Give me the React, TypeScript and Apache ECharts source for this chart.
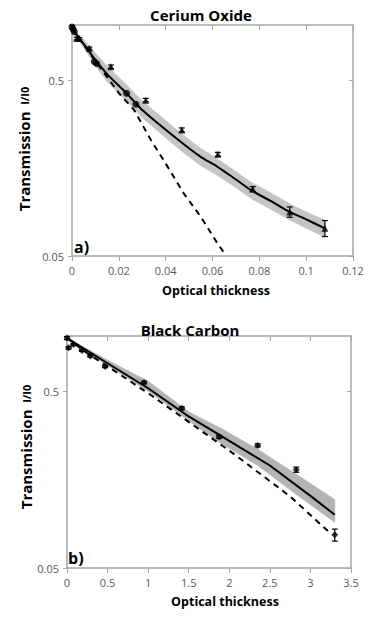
import React, { useEffect, useRef } from "react";
import * as echarts from "echarts";

// ---------- Panel a: Cerium Oxide ----------
const aFitX = [0, 0.005, 0.01, 0.015, 0.0233, 0.03, 0.0464, 0.055, 0.062, 0.07, 0.077, 0.085, 0.093, 0.1, 0.108];
const aFitY = [0.98, 0.8, 0.65, 0.54, 0.42, 0.338, 0.223, 0.183, 0.161, 0.136, 0.117, 0.1025, 0.089, 0.0807, 0.0718];
const aBandHi = [1.0, 0.85, 0.71, 0.6, 0.47, 0.38, 0.25, 0.204, 0.179, 0.151, 0.13, 0.114, 0.099, 0.089, 0.08];
const aBandLo = [0.95, 0.76, 0.6, 0.49, 0.38, 0.305, 0.199, 0.163, 0.144, 0.122, 0.105, 0.092, 0.08, 0.072, 0.064];
const aDashX = [0, 0.01, 0.0201, 0.0265, 0.0337, 0.0408, 0.0478, 0.055, 0.0621, 0.0656];
const aDashY = [0.98, 0.64, 0.42, 0.338, 0.228, 0.161, 0.113, 0.0835, 0.059, 0.0507];
const aPtX = [0, 0.0005, 0.001, 0.002, 0.0031, 0.0074, 0.0095, 0.0105, 0.0166, 0.0233, 0.0273, 0.0315, 0.0469, 0.0623, 0.0772, 0.093, 0.108];
const aPtY = [1.0, 0.97, 0.94, 0.86, 0.86, 0.757, 0.635, 0.62, 0.595, 0.42, 0.364, 0.384, 0.26, 0.189, 0.12, 0.089, 0.072];
const aPtErr = [0.02, 0, 0, 0.015, 0.01, 0.012, 0, 0, 0.013, 0, 0, 0.009, 0.007, 0.005, 0.004, 0.006, 0.0075];
const aPtShape = ["circle", "circle", "circle", "triangle", "triangle", "triangle", "circle", "circle", "triangle", "circle", "circle", "triangle", "triangle", "triangle", "triangle", "triangle", "triangle"];
const aXTicks = { min: 0, max: 0.12, interval: 0.02 };

// ---------- Panel b: Black Carbon ----------
const bFitX = [0, 0.5, 1.0, 1.5, 2.0, 2.5, 3.0, 3.3];
const bFitY = [1.0, 0.72, 0.52, 0.36, 0.262, 0.19, 0.128, 0.1];
const bBandX = [0, 0.5, 1, 1.52, 1.89, 2.35, 2.83, 3.3];
const bBandHi = [1.0, 0.75, 0.57, 0.378, 0.31, 0.235, 0.169, 0.122];
const bBandLo = [0.98, 0.7, 0.5, 0.335, 0.255, 0.19, 0.13, 0.0906];
const bDashX = [0, 0.25, 0.68, 1.05, 2.05, 2.75, 3.22];
const bDashY = [1.0, 0.82, 0.61, 0.47, 0.222, 0.127, 0.0805];
const bPtX = [0, 0.02, 0.08, 0.185, 0.287, 0.47, 0.95, 1.415, 1.875, 2.35, 2.825, 3.3];
const bPtY = [1.0, 0.88, 0.92, 0.85, 0.79, 0.69, 0.56, 0.4, 0.276, 0.247, 0.18, 0.077];
const bPtErr = [0.02, 0.015, 0.01, 0.01, 0.01, 0.01, 0.01, 0.008, 0.006, 0.005, 0.006, 0.006];
const bXTicks = { min: 0, max: 3.5, interval: 0.5 };

// y tick labels (log axis, base value 0.05)
const yTickLabels = ["0.05", "0.5"];
const Y_BASE = 0.05;
const Y_TOP = 1.3125; // decades above 0.05 shown

const T = (v: number) => Math.log10(v / Y_BASE);

const GRAY = "#a6a6a6";
const LABEL = "#595959";
const FONT = "Open Sans";

function pairs(xs: number[], ys: number[]) {
  return xs.map((x, i) => [x, T(ys[i])]);
}

function bandSeries(xs: number[], lo: number[], hi: number[], xi: number, yi: number, color: string) {
  const data = xs.map((x, i) => [x, T(lo[i]), T(hi[i])]);
  return {
    type: "custom",
    xAxisIndex: xi,
    yAxisIndex: yi,
    silent: true,
    z: 1,
    encode: { x: 0, y: [1, 2] },
    data,
    renderItem: (params: any, api: any) => {
      const i = params.dataIndex;
      if (i >= data.length - 1) return null;
      const a = data[i];
      const b = data[i + 1];
      const pts = [
        api.coord([a[0], a[1]]),
        api.coord([b[0], b[1]]),
        api.coord([b[0], b[2]]),
        api.coord([a[0], a[2]]),
      ];
      return {
        type: "polygon",
        shape: { points: pts },
        style: { fill: color, stroke: color, lineWidth: 0.6 },
      };
    },
  };
}

function errSeries(xs: number[], ys: number[], errs: number[], xi: number, yi: number) {
  const data = xs
    .map((x, i) => ({ x, y: ys[i], e: errs[i] }))
    .filter((d) => d.e > 0)
    .map((d) => [d.x, T(d.y), T(d.y - d.e), T(d.y + d.e)]);
  return {
    type: "custom",
    xAxisIndex: xi,
    yAxisIndex: yi,
    z: 4,
    silent: true,
    encode: { x: 0, y: [1, 2, 3] },
    data,
    renderItem: (params: any, api: any) => {
      const x = api.value(0);
      const lo = api.coord([x, api.value(2)]);
      const hi = api.coord([x, api.value(3)]);
      const st = { stroke: "#000", lineWidth: 1.2 };
      return {
        type: "group",
        children: [
          { type: "line", shape: { x1: lo[0], y1: lo[1], x2: hi[0], y2: hi[1] }, style: st },
          { type: "line", shape: { x1: lo[0] - 3, y1: lo[1], x2: lo[0] + 3, y2: lo[1] }, style: st },
          { type: "line", shape: { x1: hi[0] - 3, y1: hi[1], x2: hi[0] + 3, y2: hi[1] }, style: st },
        ],
      };
    },
  };
}

function xAxes(grid: number, t: { min: number; max: number; interval: number }) {
  return [
    {
      gridIndex: grid,
      type: "value",
      min: t.min,
      max: t.max,
      interval: t.interval,
      axisLine: { onZero: false, lineStyle: { color: GRAY, width: 1.5 } },
      axisTick: { show: true, length: 5, lineStyle: { color: GRAY, width: 1 } },
      axisLabel: { color: LABEL, fontSize: 11, fontFamily: FONT, margin: 9 },
      splitLine: { show: false },
    },
    {
      gridIndex: grid,
      type: "value",
      position: "top",
      min: t.min,
      max: t.max,
      interval: t.interval,
      axisLine: { onZero: false, lineStyle: { color: GRAY, width: 1.5 } },
      axisTick: { show: true, inside: true, length: 5, lineStyle: { color: GRAY, width: 1 } },
      axisLabel: { show: false },
      splitLine: { show: false },
    },
  ];
}

function yAxes(grid: number) {
  const ticks = yTickLabels.map((s) => T(parseFloat(s)));
  return [
    {
      gridIndex: grid,
      type: "value",
      min: 0,
      max: Y_TOP,
      interval: 1,
      axisLine: { show: true, onZero: false, lineStyle: { color: GRAY, width: 1.5 } },
      axisTick: { show: true, length: 4, customValues: ticks, lineStyle: { color: GRAY, width: 1 } },
      axisLabel: {
        color: LABEL,
        fontSize: 11,
        fontFamily: FONT,
        margin: 8,
        customValues: ticks,
        formatter: (v: number) => {
          const i = ticks.findIndex((t) => Math.abs(t - v) < 1e-6);
          return i >= 0 ? yTickLabels[i] : "";
        },
      },
      splitLine: { show: false },
    },
    {
      gridIndex: grid,
      type: "value",
      position: "right",
      min: 0,
      max: Y_TOP,
      interval: 1,
      axisLine: { show: true, onZero: false, lineStyle: { color: GRAY, width: 1.5 } },
      axisTick: { show: true, inside: true, length: 4, customValues: ticks, lineStyle: { color: GRAY, width: 1 } },
      axisLabel: { show: false },
      splitLine: { show: false },
    },
  ];
}

function yTitle(cx: number, cy: number) {
  return {
    type: "text",
    x: cx,
    y: cy,
    rotation: Math.PI / 2,
    z: 10,
    style: {
      text: "{t|Transmission}  {s|I/I0}",
      align: "center",
      verticalAlign: "middle",
      rich: {
        t: { fontSize: 15, fontWeight: "bold", fontFamily: FONT, fill: "#000" },
        s: { fontSize: 11, fontWeight: "bold", fontFamily: FONT, fill: "#000" },
      },
    },
  };
}

function txt(text: string, x: number, y: number, size: number, align = "center") {
  return {
    type: "text",
    x,
    y,
    z: 10,
    style: {
      text,
      align,
      verticalAlign: "middle",
      fontSize: size,
      fontWeight: "bold",
      fontFamily: FONT,
      fill: "#000",
    },
  };
}

export default function App() {
  const ref = useRef<HTMLDivElement>(null);
  useEffect(() => {
    document.body.style.margin = "0";
    if (!ref.current) return;
    const chart = echarts.init(ref.current, undefined, { renderer: "svg" });
    const option: any = {
      animation: false,
      backgroundColor: "#fff",
      grid: [
        { left: 72, top: 25, width: 281, height: 231 },
        { left: 67, top: 336, width: 284, height: 232 },
      ],
      xAxis: [...xAxes(0, aXTicks), ...xAxes(1, bXTicks)],
      yAxis: [...yAxes(0), ...yAxes(1)],
      graphic: [
        txt("Cerium Oxide", 201, 15, 15),
        txt("Black Carbon", 190, 330, 15),
        txt("Optical thickness", 216, 290, 12.5),
        txt("Optical thickness", 225, 601, 12.5),
        txt("a)", 74, 247, 16, "left"),
        txt("b)", 68, 558, 16, "left"),
        yTitle(24, 149),
        yTitle(26, 447),
      ],
      series: [
        bandSeries(aFitX, aBandLo, aBandHi, 0, 0, "#c4c4c4"),
        {
          type: "line",
          xAxisIndex: 0,
          yAxisIndex: 0,
          symbol: "none",
          lineStyle: { color: "#000", width: 2, type: [6, 5] },
          data: pairs(aDashX, aDashY),
          z: 2,
        },
        {
          type: "line",
          xAxisIndex: 0,
          yAxisIndex: 0,
          symbol: "none",
          smooth: 0.3,
          lineStyle: { color: "#000", width: 2 },
          data: pairs(aFitX, aFitY),
          z: 3,
        },
        errSeries(aPtX, aPtY, aPtErr, 0, 0),
        {
          type: "scatter",
          xAxisIndex: 0,
          yAxisIndex: 0,
          symbolSize: 7,
          itemStyle: { color: "#000" },
          data: aPtX.map((x, i) => ({ value: [x, T(aPtY[i])], symbol: aPtShape[i] })),
          z: 5,
        },
        bandSeries(bBandX, bBandLo, bBandHi, 2, 2, "#b4b4b4"),
        {
          type: "line",
          xAxisIndex: 2,
          yAxisIndex: 2,
          symbol: "none",
          lineStyle: { color: "#000", width: 2, type: [6, 5] },
          data: pairs(bDashX, bDashY),
          z: 2,
        },
        {
          type: "line",
          xAxisIndex: 2,
          yAxisIndex: 2,
          symbol: "none",
          lineStyle: { color: "#000", width: 2 },
          data: pairs(bFitX, bFitY),
          z: 3,
        },
        errSeries(bPtX, bPtY, bPtErr, 2, 2),
        {
          type: "scatter",
          xAxisIndex: 2,
          yAxisIndex: 2,
          symbol: "diamond",
          symbolSize: 7,
          itemStyle: { color: "#000" },
          data: bPtX.map((x, i) => [x, T(bPtY[i])]),
          z: 5,
        },
      ],
    };
    chart.setOption(option);
    return () => chart.dispose();
  }, []);
  return <div ref={ref} style={{ width: 380, height: 634 }} />;
}
